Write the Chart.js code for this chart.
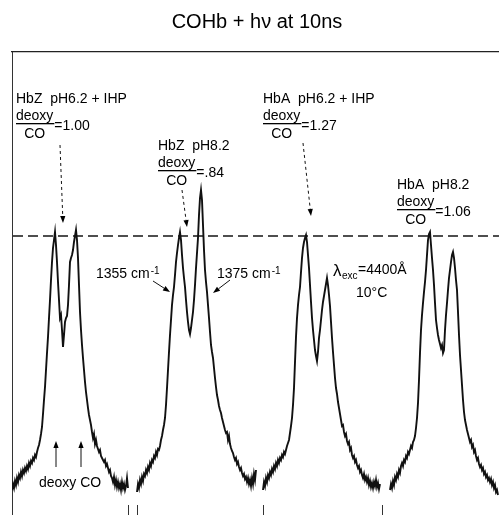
<!DOCTYPE html>
<html>
<head>
<meta charset="utf-8">
<script src="https://cdn.jsdelivr.net/npm/chart.js@4.4.0/dist/chart.umd.min.js"></script>
<style>
  body { margin: 0; background: #fff; }
  canvas { display: block; }
</style>
</head>
<body>
<canvas id="canvas_raman" width="499" height="515"></canvas>
<script>
// Raman intensity (arb. units), one value per channel, channels consecutive from *Start
var hbzIhpStart = 12;
var hbzIhp = [10,16,12,19,15,22,18,25,22,28, 24,30,27,32,29,34,31,37,34,39,
  37,42,40,45,43,48,52,55,60,66, 73,86,100,113,130,147,163,182,200,220,
  238,252,260,268,255,238,218,200,182,185, 170,153,165,178,182,184,195,215,238,242,
  245,250,258,264,270,260,242,215,188,170, 155,142,130,118,108,100,92,85,80,75,
  68,62,66,56,60,54,51,48,50,44, 42,40,38,40,34,36,32,28,30,24,
  22,18,23,15,20,13,18,12,16,10, 18,12,16,10,14,22,12];

var hbz82Start = 137;
var hbz82 = [8,16,12,20,16,23,19,26,24,30, 27,33,30,37,34,40,38,44,42,48,
  45,51,50,54,60,64,70,75,82,95, 112,130,148,165,180,195,205,213,225,238,
  247,255,262,268,260,245,232,222,213,200, 188,178,170,166,172,180,188,200,215,232,
  247,262,285,302,310,300,275,250,230,218, 208,195,182,168,155,148,142,132,122,113,
  105,100,94,90,87,82,78,74,70,67, 68,60,64,56,52,49,47,43,40,42,
  36,38,33,30,32,27,24,26,21,23, 18,22,16,20,14,22,16,26,20,30];

var hbaIhpStart = 263;
var hbaIhp = [10,18,14,22,18,25,22,28,25,31, 28,34,31,37,34,40,37,42,40,45,
  43,48,46,50,54,57,60,67,74,82, 95,112,138,163,182,195,205,213,228,242,
  252,258,262,265,258,245,232,215,198,182, 170,160,150,144,139,148,162,170,180,190,
  198,204,210,216,222,215,205,194,178,162, 148,135,122,112,106,98,92,86,80,74,
  75,68,64,66,59,56,58,50,52,45, 42,44,38,40,35,32,34,28,30,25,
  22,26,20,23,18,22,15,19,13,17, 12,18,14,20,13,17,11,16];

var hba82Start = 390;
var hba82 = [10,16,12,19,15,23,20,26,23,30, 27,34,37,34,40,38,44,42,48,46,
  50,54,52,58,60,64,72,82,97,120, 147,170,185,197,208,218,230,245,260,266,
  268,255,242,230,215,197,180,172,165,160, 156,152,155,147,150,170,185,197,210,222,
  230,238,245,248,242,232,220,210,188,165, 145,130,115,100,88,80,75,70,66,62,
  58,60,53,55,48,50,44,40,42,36, 33,35,30,32,26,28,23,25,20,22,
  18,21,15,18,12,15,8,10,5];

// dashed reference level (peak height of the HbZ pH6.2 spectrum)
var refLevel = 264;
var refRange = [13, 499];

// short tick stubs under the spectra
var bottomTicks = [12, 128, 137, 263, 382];

function toPoints(start, values) {
  return values.map(function (v, i) { return { x: start + i, y: v }; });
}

function specSet(label, start, values) {
  return {
    label: label,
    data: toPoints(start, values),
    borderColor: '#111',
    borderWidth: 1.9,
    pointRadius: 0,
    tension: 0,
    fill: false
  };
}

var FONT = '"Liberation Sans", Arial, sans-serif';

function arrow(ctx, x1, y1, x2, y2, dash) {
  var a = Math.atan2(y2 - y1, x2 - x1);
  var hl = 7, hw = 2.6;
  ctx.save();
  ctx.lineWidth = 1;
  ctx.setLineDash(dash || []);
  ctx.beginPath();
  ctx.moveTo(x1, y1);
  ctx.lineTo(x2 - hl * Math.cos(a), y2 - hl * Math.sin(a));
  ctx.stroke();
  ctx.setLineDash([]);
  ctx.beginPath();
  ctx.moveTo(x2, y2);
  ctx.lineTo(x2 - hl * Math.cos(a) + hw * Math.sin(a), y2 - hl * Math.sin(a) - hw * Math.cos(a));
  ctx.lineTo(x2 - hl * Math.cos(a) - hw * Math.sin(a), y2 - hl * Math.sin(a) + hw * Math.cos(a));
  ctx.closePath();
  ctx.fill();
  ctx.restore();
}

function ratioBlock(ctx, x, y, name, value) {
  ctx.textAlign = 'left';
  ctx.font = '14px ' + FONT;
  ctx.fillText(name, x, y);
  ctx.fillText('deoxy', x, y + 17);
  var w = ctx.measureText('deoxy').width;
  ctx.fillRect(x, y + 20, w + 1, 1.3);
  ctx.textAlign = 'center';
  ctx.fillText('CO', x + w / 2, y + 35);
  ctx.textAlign = 'left';
  ctx.fillText('=' + value, x + w + 1, y + 27);
}

function wavenumber(ctx, x, y, num) {
  ctx.textAlign = 'left';
  ctx.font = '14px ' + FONT;
  var t = num + ' cm';
  ctx.fillText(t, x, y);
  var w = ctx.measureText(t).width;
  ctx.font = '10px ' + FONT;
  ctx.fillText('-1', x + w + 1, y - 4);
}

var labelPlugin = {
  id: 'labels',
  afterDraw: function (chart) {
    var ctx = chart.ctx;
    ctx.save();
    ctx.fillStyle = '#000';
    ctx.strokeStyle = '#111';
    ctx.textBaseline = 'alphabetic';

    ctx.font = '20px ' + FONT;
    ctx.textAlign = 'center';
    ctx.fillText('COHb + h\u03bd at 10ns', 257, 28);

    ratioBlock(ctx, 16, 103, 'HbZ  pH6.2 + IHP', '1.00');
    ratioBlock(ctx, 158, 150, 'HbZ  pH8.2', '.84');
    ratioBlock(ctx, 263, 103, 'HbA  pH6.2 + IHP', '1.27');
    ratioBlock(ctx, 397, 189, 'HbA  pH8.2', '1.06');

    arrow(ctx, 60, 145, 63, 223, [3, 3]);
    arrow(ctx, 182, 190, 187, 227, [3, 3]);
    arrow(ctx, 303, 143, 311, 216, [3, 3]);

    wavenumber(ctx, 96, 278, '1355');
    arrow(ctx, 153, 281, 170, 292);
    wavenumber(ctx, 217, 278, '1375');
    arrow(ctx, 230, 280, 213, 293);

    ctx.textAlign = 'left';
    ctx.font = '17px ' + FONT;
    ctx.fillText('\u03bb', 333, 276);
    ctx.font = '10px ' + FONT;
    ctx.fillText('exc', 342, 279);
    ctx.font = '14px ' + FONT;
    ctx.fillText('=4400\u00c5', 358, 274);
    ctx.fillText('10\u00b0C', 356, 297);

    arrow(ctx, 56, 467, 56, 441);
    arrow(ctx, 81, 467, 81, 441);
    ctx.font = '14px ' + FONT;
    ctx.fillText('deoxy CO', 39, 487);
    ctx.restore();
  }
};

var ctx = document.getElementById('canvas_raman');
var ramanChart = new Chart(ctx, {
  type: 'line',
  data: {
    datasets: [
      specSet('HbZ pH6.2 + IHP', hbzIhpStart, hbzIhp),
      specSet('HbZ pH8.2', hbz82Start, hbz82),
      specSet('HbA pH6.2 + IHP', hbaIhpStart, hbaIhp),
      specSet('HbA pH8.2', hba82Start, hba82),
      {
        label: 'reference',
        data: [{ x: refRange[0], y: refLevel }, { x: refRange[1], y: refLevel }],
        borderColor: '#151515',
        borderWidth: 1.5,
        borderDash: [10, 5],
        pointRadius: 0,
        fill: false
      }
    ]
  },
  options: {
    responsive: false,
    animation: false,
    devicePixelRatio: 1,
    layout: { padding: { left: 12, top: 52, right: 0, bottom: 0 } },
    plugins: { legend: { display: false }, tooltip: { enabled: false }, title: { display: false } },
    scales: {
      x: {
        type: 'linear',
        position: 'bottom',
        min: 12,
        max: 499,
        afterBuildTicks: function (axis) {
          axis.ticks = bottomTicks.map(function (v) { return { value: v }; });
        },
        ticks: { display: false },
        grid: { drawOnChartArea: false, drawTicks: true, tickLength: 10, color: '#333', lineWidth: 1 },
        border: { display: false }
      },
      xTop: {
        type: 'linear',
        position: 'top',
        min: 12,
        max: 499,
        ticks: { display: false },
        grid: { drawOnChartArea: false, drawTicks: false },
        border: { display: true, color: '#222', width: 1.2 }
      },
      y: {
        type: 'linear',
        min: -5,
        max: 448,
        ticks: { display: false },
        grid: { drawOnChartArea: false, drawTicks: false },
        border: { display: true, color: '#333', width: 1 }
      }
    }
  },
  plugins: [labelPlugin]
});
</script>
</body>
</html>
